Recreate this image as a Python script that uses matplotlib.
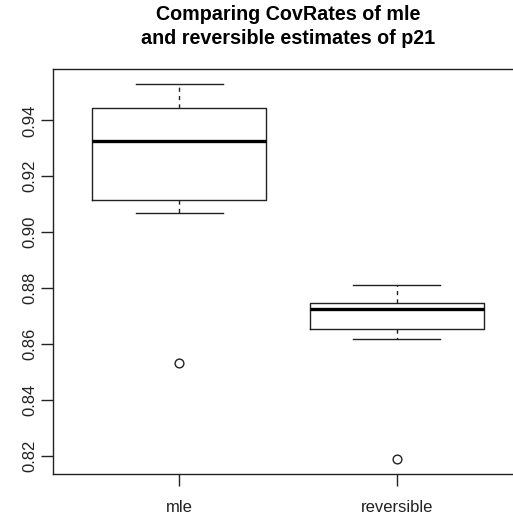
import matplotlib
matplotlib.use("Agg")
import matplotlib.pyplot as plt
import matplotlib.transforms as mtransforms

# group names and summary statistics
groups = ["mle", "reversible"]
whisker_lo = [0.9069, 0.8619]
q1 = [0.9114, 0.8655]
median = [0.9325, 0.8724]
q3 = [0.9444, 0.8745]
whisker_hi = [0.9530, 0.8810]
outliers = [[0.8530], [0.8188]]

yticks = [0.82, 0.84, 0.86, 0.88, 0.90, 0.92, 0.94]

plt.rcParams["font.family"] = ["Liberation Sans", "DejaVu Sans"]

fig = plt.figure(figsize=(5.13, 5.19), dpi=100)
ax = fig.add_axes([53.3 / 513, 45 / 519, 469.5 / 513, 405 / 519])

stats = []
for i, name in enumerate(groups):
    stats.append(dict(label=name, whislo=whisker_lo[i], q1=q1[i], med=median[i],
                      q3=q3[i], whishi=whisker_hi[i], fliers=outliers[i]))

ax.bxp(stats, positions=[1, 2], widths=0.8, showfliers=True,
       boxprops=dict(color="#222222", linewidth=1.0),
       medianprops=dict(color="black", linewidth=2.4, solid_capstyle="butt"),
       whiskerprops=dict(color="#222222", linewidth=1.0, linestyle=(0, (3, 3))),
       capprops=dict(color="#222222", linewidth=1.0),
       capwidths=0.4,
       flierprops=dict(marker="o", markerfacecolor="none", markeredgecolor="#222222",
                       markersize=6.3, markeredgewidth=1.0))

# R-style 4% axis extension
all_vals = whisker_lo + whisker_hi + [v for o in outliers for v in o]
lo, hi = min(all_vals), max(all_vals)
pad = 0.04 * (hi - lo)
ax.set_ylim(lo - pad, hi + pad)
ax.set_xlim(0.42, 2.58)

ax.set_yticks(yticks)
ax.set_yticklabels([f"{t:.2f}" for t in yticks], rotation=90, va="center")
ax.set_xticks([1, 2])
ax.set_xticklabels(groups)
ax.tick_params(axis="both", direction="out", length=8.5, width=1.0, color="#222222",
               labelsize=12, labelcolor="#222222")
ax.tick_params(axis="y", pad=3)
ax.tick_params(axis="x", pad=10.5)

for side in ["top", "left", "bottom", "right"]:
    ax.spines[side].set_color("#222222")
    ax.spines[side].set_linewidth(1.0)

# title is centred over the plot region (which runs past the right edge)
trans = mtransforms.blended_transform_factory(ax.transAxes, fig.transFigure)
ax.text(0.5, 1 - 15 / 519, "Comparing CovRates of mle", transform=trans,
        ha="center", va="center", fontsize=14.2, fontweight="bold")
ax.text(0.5, 1 - 39 / 519, "and reversible estimates of p21", transform=trans,
        ha="center", va="center", fontsize=14.2, fontweight="bold")

fig.savefig("out.png", dpi=100)
